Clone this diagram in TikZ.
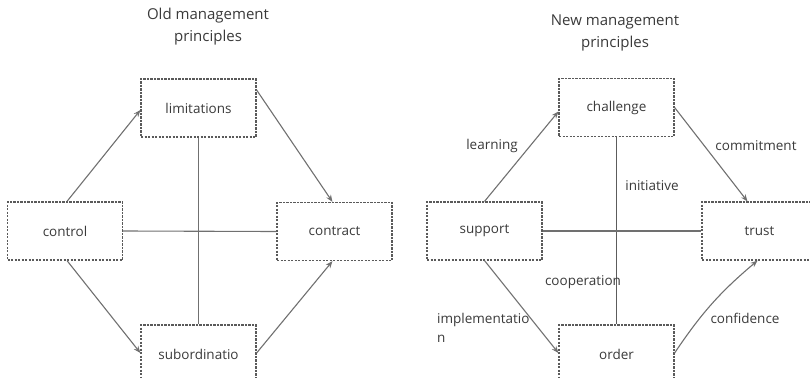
\documentclass[tikz,border=0pt]{standalone}
\usepackage{fontspec}
\setmainfont{Open Sans}
\usetikzlibrary{arrows.meta}
\definecolor{ink}{HTML}{3A3A3A}
\definecolor{rule}{HTML}{707070}
\definecolor{ruledark}{HTML}{5C5C5C}
\definecolor{frame}{HTML}{5A5A5A}
\begin{document}
\begin{tikzpicture}[x=1pt,y=-1pt,
  every node/.style={text=ink,font=\fontsize{13.5}{19}\selectfont},
  box/.style={draw=frame,line width=1.2pt,dash pattern=on 2.2pt off 1.3pt,
    minimum width=115pt,minimum height=58pt,inner sep=0pt},
  link/.style={draw=rule,line width=1.1pt},
  strong/.style={draw=ruledark,line width=1.5pt},
  arr/.style={link,-{Stealth[length=7pt,width=5.5pt]}},
  lbl/.style={inner sep=0pt},
  title/.style={align=center,inner sep=0pt,font=\fontsize{15}{22}\selectfont}]
\useasboundingbox (0,0) rectangle (810,377);

% ---- old management principles ----
\node[title] (oldtitle) at (208,27) {Old management\\principles};
\node[box] (limitations) at (198.5,108) {limitations};
\node[box] (control) at (65,231) {control};
\node[box] (contract) at (334.5,231.5) {contract};
\node[box] (subord) at (198.5,354) {subordinatio};

\draw[link] (limitations.south) -- (subord.north);
\draw[link] (control.east) -- (contract.west);
\draw[arr] ([xshift=2pt]control.north) -- ([yshift=-2pt]limitations.west);
\draw[arr] ([yshift=18pt]limitations.east) -- ([xshift=-2pt]contract.north);
\draw[arr] ([xshift=2pt]control.south) -- ([yshift=1pt]subord.west);
\draw[arr] ([yshift=1pt]subord.east) -- ([xshift=-2pt]contract.south);

% ---- new management principles ----
\node[title] (newtitle) at (615,33) {New management\\principles};
\node[box] (challenge) at (616.5,107.5) {challenge};
\node[box] (support) at (484.5,231) {support};
\node[box] (trust) at (759.5,231) {trust};
\node[box] (order) at (616.5,354) {order};

\draw[strong] (challenge.south) -- (order.north);
\draw[link] (support.east) -- (trust.west);
\draw[arr] (support.north) -- ([yshift=-4pt]challenge.west);
\draw[arr] (challenge.east) -- ([xshift=-12pt]trust.north);
\draw[arr] (support.south) -- ([yshift=1pt]order.west);
\draw[arr] ([yshift=1pt]order.east) to[bend left=8] ([xshift=-2pt]trust.south);

\node[lbl] (learning) at (492,146) {learning};
\node[lbl] (commitment) at (756,146) {commitment};
\node[lbl] (initiative) at (652,186) {initiative};
\node[lbl] (cooperation) at (583,282) {cooperation};
\node[lbl,anchor=west,align=left] (implementation) at (437,327.5) {implementatio\\n};
\node[lbl] (confidence) at (745,318) {confidence};
\end{tikzpicture}
\end{document}
